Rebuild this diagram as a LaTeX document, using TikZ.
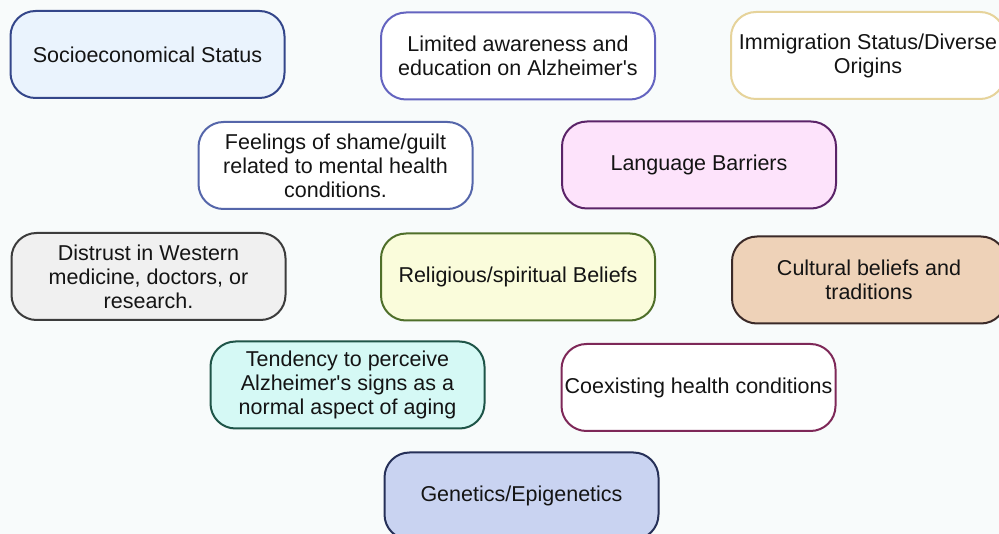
\documentclass[tikz,border=0pt]{standalone}
\usepackage{fontspec}
\setmainfont{Liberation Sans}
\definecolor{bgc}{HTML}{F8FBFB}
\definecolor{txt}{HTML}{141414}
\definecolor{socF}{HTML}{EAF3FD}\definecolor{socD}{HTML}{34468A}
\definecolor{limD}{HTML}{6464C0}
\definecolor{immD}{HTML}{E6D39A}
\definecolor{feeD}{HTML}{5566AA}
\definecolor{lanF}{HTML}{FDE3FB}\definecolor{lanD}{HTML}{5B2468}
\definecolor{disF}{HTML}{F0F0F0}\definecolor{disD}{HTML}{3C3C3C}
\definecolor{relF}{HTML}{FAFCDB}\definecolor{relD}{HTML}{4F6F2A}
\definecolor{culF}{HTML}{EED2B8}\definecolor{culD}{HTML}{3B2A28}
\definecolor{tenF}{HTML}{D5F9F5}\definecolor{tenD}{HTML}{1E5548}
\definecolor{coeD}{HTML}{7E2858}
\definecolor{genF}{HTML}{C9D3F1}\definecolor{genD}{HTML}{263058}
\newcommand{\apos}{\textquotesingle}
\begin{document}
\begin{tikzpicture}[x=1pt,y=-1pt,
  factor/.style={rectangle, rounded corners=25pt, line width=2pt,
    minimum width=274pt, minimum height=87pt, inner sep=0pt,
    align=center, text=txt,
    font=\fontsize{21.5pt}{24pt}\selectfont}]
\useasboundingbox[fill=bgc] (0,0) rectangle (999,534);
\node[factor, fill=socF, draw=socD] (soc) at (147.5,54.5) {Socioeconomical Status};
\node[factor, fill=white, draw=limD] (lim) at (518,56) {Limited awareness and\\education on Alzheimer\apos s};
\node[factor, fill=white, draw=immD] (imm) at (868,55.5) {Immigration Status/Diverse\\Origins};
\node[factor, fill=white, draw=feeD] (fee) at (335.5,165.5) {Feelings of shame/guilt\\related to mental health\\conditions.};
\node[factor, fill=lanF, draw=lanD] (lan) at (699,165) {Language Barriers};
\node[factor, fill=disF, draw=disD] (dis) at (148.5,276.5) {Distrust in Western\\medicine, doctors, or\\research.};
\node[factor, fill=relF, draw=relD] (rel) at (518,277) {Religious/spiritual Beliefs};
\node[factor, fill=culF, draw=culD] (cul) at (869,280) {Cultural beliefs and\\traditions};
\node[factor, fill=tenF, draw=tenD] (ten) at (347.5,385) {Tendency to perceive\\Alzheimer\apos s signs as a\\normal aspect of aging};
\node[factor, fill=white, draw=coeD] (coe) at (698.5,387.5) {Coexisting health conditions};
\node[factor, fill=genF, draw=genD] (gen) at (521.5,496) {Genetics/Epigenetics};
\end{tikzpicture}
\end{document}
